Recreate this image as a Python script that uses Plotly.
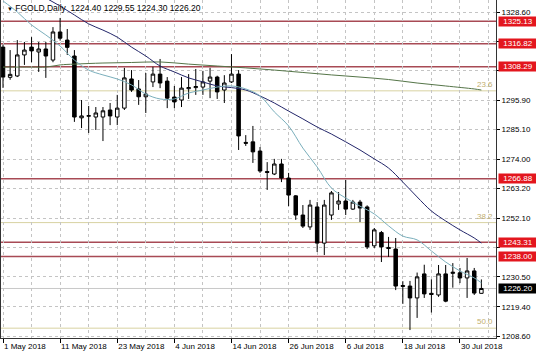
import plotly.graph_objects as go

# ---------------- data ----------------
bar_idx = list(range(68))
opens = [1315.6, 1304.4, 1304.9, 1312.7, 1315.6, 1313.8, 1314.9, 1310.8, 1321.2, 1318.2,
         1312.3, 1289.4, 1290.0, 1289.7, 1289.7, 1292.3, 1289.7, 1293.0, 1303.8, 1300.1,
         1297.2, 1302.7, 1305.6, 1303.0, 1297.1, 1296.0, 1300.2, 1300.6, 1300.8, 1303.0,
         1304.5, 1299.7, 1302.7, 1305.6, 1280.3, 1280.5, 1277.1, 1269.5, 1268.6, 1272.3,
         1267.1, 1260.5, 1253.4, 1249.0, 1256.4, 1243.0, 1253.4, 1257.5, 1258.6, 1255.6,
         1258.2, 1256.4, 1242.0, 1246.9, 1241.4, 1240.8, 1227.3, 1227.1, 1222.7, 1231.6,
         1224.4, 1223.8, 1231.6, 1231.8, 1232.0, 1230.1, 1232.7, 1224.40]
highs = [1316.5, 1314.5, 1318.2, 1317.5, 1319.3, 1317.5, 1317.5, 1323.0, 1326.4, 1322.3,
         1314.5, 1296.0, 1293.8, 1293.4, 1293.4, 1294.9, 1297.9, 1307.9, 1307.1, 1303.4,
         1306.0, 1308.3, 1311.2, 1304.5, 1301.2, 1304.5, 1305.6, 1307.5, 1306.8, 1307.9,
         1305.0, 1305.2, 1313.0, 1307.1, 1283.0, 1286.4, 1278.6, 1273.0, 1274.2, 1274.2,
         1269.0, 1260.8, 1257.1, 1259.0, 1258.2, 1259.0, 1262.3, 1261.9, 1266.4, 1259.0,
         1259.0, 1257.0, 1248.6, 1247.5, 1245.3, 1244.9, 1228.9, 1229.0, 1232.1, 1235.0,
         1229.6, 1234.9, 1234.9, 1235.6, 1233.8, 1237.5, 1233.8, 1229.55]
lows = [1300.5, 1303.5, 1304.5, 1309.0, 1310.0, 1306.4, 1304.2, 1310.0, 1318.0, 1312.7,
        1287.9, 1285.6, 1283.8, 1284.9, 1280.8, 1286.7, 1286.7, 1292.3, 1299.0, 1294.2,
        1291.2, 1300.8, 1300.4, 1293.0, 1293.0, 1293.4, 1296.4, 1297.9, 1297.9, 1296.7,
        1296.4, 1294.9, 1302.3, 1277.5, 1279.0, 1272.7, 1269.0, 1262.7, 1268.2, 1265.6,
        1256.7, 1251.6, 1248.6, 1247.9, 1239.7, 1238.6, 1251.6, 1255.3, 1253.4, 1255.3,
        1250.8, 1240.8, 1241.2, 1236.0, 1237.9, 1225.6, 1220.5, 1210.8, 1215.3, 1222.7,
        1217.3, 1223.1, 1221.1, 1226.5, 1228.2, 1222.7, 1223.8, 1224.30]
closes = [1304.5, 1305.5, 1312.7, 1314.5, 1314.2, 1314.9, 1312.3, 1321.2, 1318.9, 1315.5,
          1289.7, 1290.1, 1290.2, 1291.2, 1292.0, 1290.1, 1293.0, 1304.2, 1299.7, 1297.2,
          1298.2, 1305.6, 1302.3, 1296.7, 1295.3, 1300.4, 1300.6, 1301.0, 1302.7, 1304.5,
          1299.0, 1302.3, 1305.6, 1282.7, 1280.0, 1276.8, 1269.7, 1269.2, 1272.3, 1267.1,
          1260.8, 1253.4, 1249.3, 1257.1, 1243.0, 1257.1, 1261.6, 1258.6, 1255.6, 1258.2,
          1256.0, 1241.6, 1247.9, 1241.6, 1241.0, 1227.1, 1227.0, 1222.7, 1230.5, 1224.2,
          1224.0, 1231.6, 1221.5, 1232.2, 1230.1, 1232.7, 1224.5, 1226.20]

date_label_idx = [0, 8, 16, 24, 32, 40, 48, 56, 64]
date_labels = ["1 May 2018", "11 May 2018", "23 May 2018", "4 Jun 2018", "14 Jun 2018",
               "26 Jun 2018", "6 Jul 2018", "18 Jul 2018", "30 Jul 2018"]

price_ticks = [1328.6, 1317.7, 1306.8, 1295.9, 1285.1, 1274.0, 1263.2, 1252.1,
               1241.3, 1230.5, 1219.4, 1208.6]
# tick labels that sit behind the level boxes in the reference are left blank
price_tick_text = ["1328.60", "", "", "1295.90", "1285.10", "1274.00", "1263.20", "1252.10",
                   "", "1230.50", "1219.40", "1208.60"]

ma_fast_idx = [0, 2, 4, 6, 8, 10, 12, 14, 16, 18, 20, 22, 24, 26, 28, 30, 32, 34, 36, 38,
               40, 42, 44, 46, 48, 50, 52, 54, 56, 58, 60, 62, 64, 66, 67]
ma_fast = [1332.7, 1328.6, 1323.8, 1320.1, 1316.0, 1310.8, 1307.1, 1305.3, 1303.8, 1301.6,
           1298.2, 1296.4, 1296.4, 1298.6, 1299.7, 1300.8, 1301.2, 1300.1, 1297.5, 1291.6,
           1286.4, 1278.2, 1271.2, 1263.4, 1259.7, 1256.7, 1253.8, 1249.4, 1245.6, 1244.2,
           1240.1, 1236.0, 1232.7, 1230.1, 1228.3]

ma_mid_idx = [4, 6, 8, 10, 12, 14, 16, 18, 20, 22, 24, 26, 28, 30, 32, 34, 36, 38, 40, 42,
              44, 46, 48, 50, 52, 54, 56, 58, 60, 62, 64, 66, 67]
ma_mid = [1336.7, 1333.8, 1330.8, 1327.5, 1324.2, 1321.9, 1319.3, 1315.6, 1312.3, 1308.6,
          1306.4, 1304.2, 1302.7, 1301.2, 1300.6, 1299.7, 1297.5, 1294.9, 1291.9, 1289.0,
          1286.0, 1283.4, 1280.5, 1277.5, 1274.2, 1270.8, 1265.6, 1260.1, 1254.9, 1251.2,
          1247.9, 1244.9, 1243.0]

ma_slow_idx = [0, 4, 6, 8, 10, 14, 18, 22, 26, 30, 34, 38, 42, 46, 50, 54, 58, 62, 66, 67]
ma_slow = [1308.2, 1308.2, 1308.2, 1309.0, 1309.3, 1309.7, 1309.9, 1310.1, 1309.3, 1308.6,
           1307.9, 1307.1, 1306.2, 1305.3, 1304.5, 1303.6, 1302.3, 1301.2, 1300.1, 1299.7]

level_prices = [1325.13, 1316.82, 1308.29, 1266.88, 1243.31, 1238.00]
fib_prices = [1299.4, 1250.6, 1211.5]
fib_labels = ["23.6", "38.2", "50.0"]
last_price = 1226.20
title_text = "FGOLD,Daily  1224.40 1229.55 1224.30 1226.20"

# ---------------- geometry ----------------
W, H = 536, 357
ML, MR, MT, MB = 1, 40, 0, 19
px_per_bar = 7.14
first_bar_px = 3.0
px_per_unit = 2.7
ref_price, ref_px = 1328.6, 12.0

x_range = [(ML - first_bar_px) / px_per_bar, (W - MR - first_bar_px) / px_per_bar]
y_top = ref_price + (ref_px - MT) / px_per_unit
y_bot = ref_price - ((H - MB) - ref_px) / px_per_unit

FONT = "Liberation Sans, Arial, sans-serif"
LEVEL_COLOR = "#A84A55"
FIB_COLOR = "#D8D2A2"
GRID = "#C4C4C4"

fig = go.Figure()

fig.add_trace(go.Scatter(x=ma_slow_idx, y=ma_slow, mode="lines", line_shape="spline",
                         line=dict(color="#557548", width=1), hoverinfo="skip"))
fig.add_trace(go.Scatter(x=ma_mid_idx, y=ma_mid, mode="lines", line_shape="spline",
                         line=dict(color="#23266A", width=1), hoverinfo="skip"))
fig.add_trace(go.Scatter(x=ma_fast_idx, y=ma_fast, mode="lines", line_shape="spline",
                         line=dict(color="#7AAFBC", width=1), hoverinfo="skip"))

fig.add_trace(go.Candlestick(
    x=bar_idx, open=opens, high=highs, low=lows, close=closes,
    increasing=dict(line=dict(color="black", width=1), fillcolor="white"),
    decreasing=dict(line=dict(color="black", width=1), fillcolor="black"),
    whiskerwidth=0, hoverinfo="skip"))

shapes = []
for p in fib_prices:
    shapes.append(dict(type="line", xref="paper", x0=0, x1=1, yref="y", y0=p, y1=p,
                       line=dict(color=FIB_COLOR, width=1), layer="below"))
shapes.append(dict(type="line", xref="paper", x0=0, x1=1, yref="y", y0=last_price, y1=last_price,
                   line=dict(color="#C8C8C8", width=1), layer="below"))
for p in level_prices:
    shapes.append(dict(type="line", xref="paper", x0=0, x1=1, yref="y", y0=p, y1=p,
                       line=dict(color=LEVEL_COLOR, width=1.5), layer="below"))

annotations = []
for p, t in zip(fib_prices, fib_labels):
    annotations.append(dict(xref="paper", x=1, xanchor="right", xshift=-1, yref="y", y=p,
                            yanchor="bottom", yshift=0, text=t, showarrow=False,
                            font=dict(family=FONT, size=8, color="#C2AE6E")))
for p in level_prices:
    annotations.append(dict(xref="paper", x=1, xanchor="left", xshift=2, yref="y", y=p,
                            yanchor="middle", text=f"{p:.2f}", showarrow=False,
                            bgcolor="#E3161E", width=38, height=9, borderpad=0,
                            font=dict(family=FONT, size=8, color="white")))
annotations.append(dict(xref="paper", x=1, xanchor="left", xshift=2, yref="y", y=last_price,
                        yanchor="middle", text=f"{last_price:.2f}", showarrow=False,
                        bgcolor="black", width=38, height=9, borderpad=0,
                        font=dict(family=FONT, size=8, color="white")))
annotations.append(dict(xref="paper", yref="paper", x=0, y=1, xanchor="left", yanchor="top",
                        xshift=4, yshift=-1, showarrow=False,
                        text="<span style='font-size:6px'>▼</span> " + title_text,
                        font=dict(family=FONT, size=8.5, color="black")))

fig.update_layout(
    width=W, height=H, margin=dict(l=ML, r=MR, t=MT, b=MB, pad=0),
    paper_bgcolor="white", plot_bgcolor="white", showlegend=False,
    shapes=shapes, annotations=annotations,
    xaxis=dict(range=x_range, tickmode="array", tickvals=date_label_idx, ticktext=date_labels,
               ticks="outside", ticklen=4, tickcolor="black", ticklabelposition="outside right",
               tickfont=dict(family=FONT, size=8, color="black"),
               showgrid=True, gridcolor=GRID, griddash="3px,3px", gridwidth=1,
               minor=dict(tickmode="linear", tick0=0, dtick=4, showgrid=True, gridcolor=GRID,
                          griddash="3px,3px", ticks=""),
               showline=True, linecolor="#333333", linewidth=1, mirror=True,
               zeroline=False, rangeslider=dict(visible=False), fixedrange=True),
    yaxis=dict(range=[y_bot, y_top], side="right", tickmode="array", tickvals=price_ticks,
               ticktext=price_tick_text,
               ticks="outside", ticklen=3, tickcolor="black",
               tickfont=dict(family=FONT, size=8, color="black"),
               showgrid=True, gridcolor=GRID, griddash="3px,3px", gridwidth=1,
               showline=True, linecolor="#333333", linewidth=1, mirror=True,
               zeroline=False, fixedrange=True),
)

fig.write_html("out.html")
